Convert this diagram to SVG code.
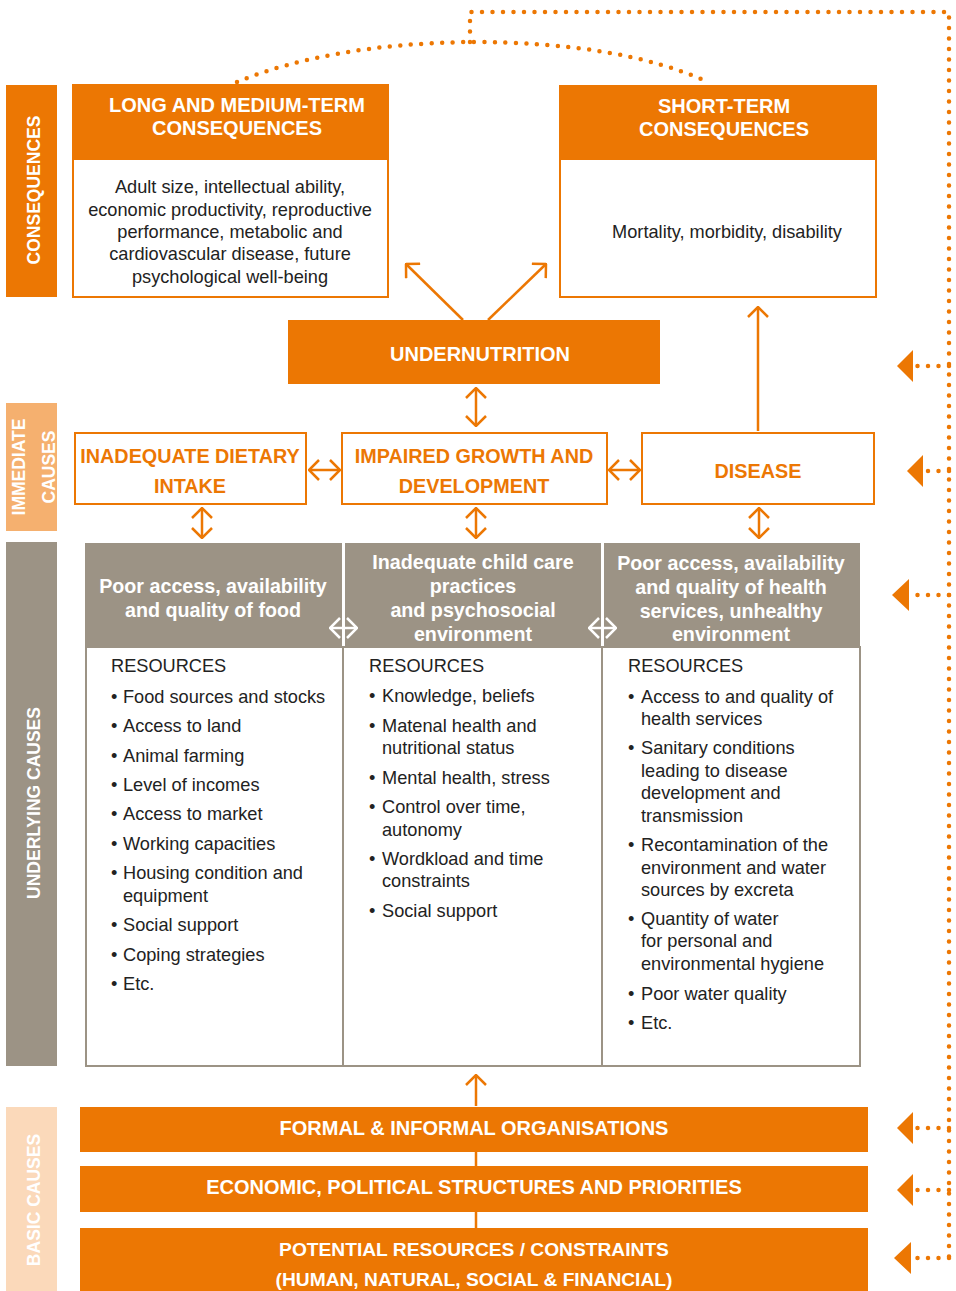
<svg xmlns="http://www.w3.org/2000/svg" width="956" height="1291" viewBox="0 0 956 1291">
<defs>
<style>
.or{fill:#EC7703}
.side{font-family:"Liberation Sans",Arial,sans-serif;font-weight:bold;font-size:17.5px;fill:#fff;text-anchor:middle}
.hd{font-family:"Liberation Sans",Arial,sans-serif;font-weight:bold;font-size:20px;fill:#fff;text-anchor:middle}
.gh{font-size:19.7px}
.pt{font-size:19.2px}
.ob{font-family:"Liberation Sans",Arial,sans-serif;font-weight:bold;font-size:19.8px;fill:#EC7703;text-anchor:middle}
.body{font-family:"Liberation Sans",Arial,sans-serif;font-size:18.2px;fill:#222;}
.mid{text-anchor:middle}
.box{fill:#fff;stroke:#EC7703;stroke-width:2}
.gray{fill:#9C9385}
.dot{fill:none;stroke:#EC7703;stroke-width:4.5;stroke-linecap:round;stroke-dasharray:0 10.5}
.ln{fill:none;stroke:#EC7703;stroke-width:2.5}
.wln{fill:none;stroke:#fff;stroke-width:2.5}
</style>
<marker id="ch" viewBox="0 0 12 22" refX="11" refY="11" markerWidth="12" markerHeight="22" markerUnits="userSpaceOnUse" orient="auto-start-reverse">
<path d="M1,1 L11,11 L1,21" fill="none" stroke="#EC7703" stroke-width="2.5"/>
</marker>
<marker id="chw" viewBox="0 0 12 22" refX="11" refY="11" markerWidth="12" markerHeight="22" markerUnits="userSpaceOnUse" orient="auto-start-reverse">
<path d="M1,1 L11,11 L1,21" fill="none" stroke="#fff" stroke-width="2.5"/>
</marker>
</defs>
<rect width="956" height="1291" fill="#fff"/>

<g id="side-labels">
<rect x="6" y="85" width="51" height="212" class="or"/>
<text class="side" transform="translate(40,190) rotate(-90)">CONSEQUENCES</text>
<rect x="6" y="403" width="51" height="128" fill="#F5B06F"/>
<text class="side" transform="translate(25,467) rotate(-90)">IMMEDIATE</text>
<text class="side" transform="translate(55,467) rotate(-90)">CAUSES</text>
<rect x="6" y="542" width="51" height="524" class="gray"/>
<text class="side" transform="translate(40,803) rotate(-90)">UNDERLYING CAUSES</text>
<rect x="6" y="1107" width="51" height="184" fill="#FBD9BA"/>
<text class="side" transform="translate(40,1200) rotate(-90)">BASIC CAUSES</text>
</g>

<g id="connectors">
<path class="dot" d="M237,82 Q330,44 470,42 Q620,42 708,82"/>
<path class="dot" d="M470,42 L470,12 L949,12 L949,1258"/>
<path class="dot" d="M949,366 L917,366 M949,471 L927,471 M949,595 L913,595 M949,1128 L917,1128 M949,1190 L917,1190 M949,1258 L915,1258"/>
<path class="or" d="M897,366 L913,350 L913,382 Z M907,471 L923,455 L923,487 Z M892,595 L909,579 L909,611 Z M897,1128 L913,1112 L913,1144 Z M897,1190 L913,1174 L913,1206 Z M894,1258 L911,1242 L911,1274 Z"/>
<path class="ln" d="M463,320 L406,264" marker-end="url(#ch)"/>
<path class="ln" d="M488,320 L546,264" marker-end="url(#ch)"/>
<path class="ln" d="M758,431 L758,307" marker-end="url(#ch)"/>
<path class="ln" d="M476,388 L476,426" marker-start="url(#ch)" marker-end="url(#ch)"/>
<path class="ln" d="M202,508 L202,538" marker-start="url(#ch)" marker-end="url(#ch)"/>
<path class="ln" d="M476,508 L476,538" marker-start="url(#ch)" marker-end="url(#ch)"/>
<path class="ln" d="M759,508 L759,538" marker-start="url(#ch)" marker-end="url(#ch)"/>
<path class="ln" d="M309,470 L340,470" marker-start="url(#ch)" marker-end="url(#ch)"/>
<path class="ln" d="M609,470 L640,470" marker-start="url(#ch)" marker-end="url(#ch)"/>
<path class="ln" d="M476,1106 L476,1075" marker-end="url(#ch)"/>
<path class="ln" d="M476,1152 L476,1166 M476,1212 L476,1228"/>
</g>

<g id="long-term">
<rect x="73" y="85" width="315" height="212" class="box"/>
<rect x="72" y="84" width="317" height="76" class="or"/>
<text class="hd" x="237" y="112">LONG AND MEDIUM-TERM</text>
<text class="hd" x="237" y="135">CONSEQUENCES</text>
<text class="body mid" x="230" y="193">Adult size, intellectual ability,</text>
<text class="body mid" x="230" y="216">economic productivity, reproductive</text>
<text class="body mid" x="230" y="238">performance, metabolic and</text>
<text class="body mid" x="230" y="260">cardiovascular disease, future</text>
<text class="body mid" x="230" y="283">psychological well-being</text>
</g>

<g id="short-term">
<rect x="560" y="86" width="316" height="211" class="box"/>
<rect x="559" y="85" width="318" height="75" class="or"/>
<text class="hd" x="724" y="113">SHORT-TERM</text>
<text class="hd" x="724" y="136">CONSEQUENCES</text>
<text class="body mid" x="727" y="238">Mortality, morbidity, disability</text>
</g>

<g id="undernutrition">
<rect x="288" y="320" width="372" height="64" class="or"/>
<text class="hd" x="480" y="361">UNDERNUTRITION</text>
</g>

<g id="dietary">
<rect x="75" y="433" width="231" height="71" class="box"/>
<text class="ob" x="190" y="463">INADEQUATE DIETARY</text>
<text class="ob" x="190" y="493">INTAKE</text>
</g>
<g id="growth">
<rect x="342" y="433" width="265" height="71" class="box"/>
<text class="ob" x="474" y="463">IMPAIRED GROWTH AND</text>
<text class="ob" x="474" y="493">DEVELOPMENT</text>
</g>
<g id="disease">
<rect x="642" y="433" width="232" height="71" class="box"/>
<text class="ob" x="758" y="478">DISEASE</text>
</g>

<g id="resources-panel">
<rect x="86" y="647" width="774" height="419" fill="#fff" stroke="#9C9385" stroke-width="2"/>
<path d="M343,647 L343,1066 M602,647 L602,1066" stroke="#9C9385" stroke-width="2"/>
</g>

<g id="food">
<rect x="85" y="543" width="257" height="104" class="gray"/>
<text class="hd gh" x="213" y="593">Poor access, availability</text>
<text class="hd gh" x="213" y="617">and quality of food</text>
<text class="body" x="111" y="672">RESOURCES</text>
<g class="body">
<text x="111" y="703">•</text><text x="123" y="703">Food sources and stocks</text>
<text x="111" y="732">•</text><text x="123" y="732">Access to land</text>
<text x="111" y="762">•</text><text x="123" y="762">Animal farming</text>
<text x="111" y="791">•</text><text x="123" y="791">Level of incomes</text>
<text x="111" y="820">•</text><text x="123" y="820">Access to market</text>
<text x="111" y="850">•</text><text x="123" y="850">Working capacities</text>
<text x="111" y="879">•</text><text x="123" y="879">Housing condition and</text>
<text x="123" y="902">equipment</text>
<text x="111" y="931">•</text><text x="123" y="931">Social support</text>
<text x="111" y="961">•</text><text x="123" y="961">Coping strategies</text>
<text x="111" y="990">•</text><text x="123" y="990">Etc.</text>
</g>
</g>

<g id="care">
<rect x="345" y="543" width="256" height="104" class="gray"/>
<text class="hd gh" x="473" y="569">Inadequate child care</text>
<text class="hd gh" x="473" y="593">practices</text>
<text class="hd gh" x="473" y="617">and psychosocial</text>
<text class="hd gh" x="473" y="641">environment</text>
<text class="body" x="369" y="672">RESOURCES</text>
<g class="body">
<text x="369" y="702">•</text><text x="382" y="702">Knowledge, beliefs</text>
<text x="369" y="732">•</text><text x="382" y="732">Matenal health and</text>
<text x="382" y="754">nutritional status</text>
<text x="369" y="784">•</text><text x="382" y="784">Mental health, stress</text>
<text x="369" y="813">•</text><text x="382" y="813">Control over time,</text>
<text x="382" y="836">autonomy</text>
<text x="369" y="865">•</text><text x="382" y="865">Wordkload and time</text>
<text x="382" y="887">constraints</text>
<text x="369" y="917">•</text><text x="382" y="917">Social support</text>
</g>
</g>

<g id="health">
<rect x="604" y="543" width="256" height="104" class="gray"/>
<text class="hd gh" x="731" y="570">Poor access, availability</text>
<text class="hd gh" x="731" y="594">and quality of health</text>
<text class="hd gh" x="731" y="618">services, unhealthy</text>
<text class="hd gh" x="731" y="641">environment</text>
<text class="body" x="628" y="672">RESOURCES</text>
<g class="body">
<text x="628" y="703">•</text><text x="641" y="703">Access to and quality of</text>
<text x="641" y="725">health services</text>
<text x="628" y="754">•</text><text x="641" y="754">Sanitary conditions</text>
<text x="641" y="777">leading to disease</text>
<text x="641" y="799">development and</text>
<text x="641" y="822">transmission</text>
<text x="628" y="851">•</text><text x="641" y="851">Recontamination of the</text>
<text x="641" y="874">environment and water</text>
<text x="641" y="896">sources by excreta</text>
<text x="628" y="925">•</text><text x="641" y="925">Quantity of water</text>
<text x="641" y="947">for personal and</text>
<text x="641" y="970">environmental hygiene</text>
<text x="628" y="1000">•</text><text x="641" y="1000">Poor water quality</text>
<text x="628" y="1029">•</text><text x="641" y="1029">Etc.</text>
</g>
</g>

<g id="white-arrows">
<path class="wln" d="M330,628 L357,628" marker-start="url(#chw)" marker-end="url(#chw)"/>
<path class="wln" d="M589,628 L616,628" marker-start="url(#chw)" marker-end="url(#chw)"/>
</g>

<g id="formal">
<rect x="80" y="1107" width="788" height="45" class="or"/>
<text class="hd" x="474" y="1135">FORMAL &amp; INFORMAL ORGANISATIONS</text>
</g>
<g id="economic">
<rect x="80" y="1166" width="788" height="46" class="or"/>
<text class="hd" x="474" y="1194">ECONOMIC, POLITICAL STRUCTURES AND PRIORITIES</text>
</g>
<g id="potential">
<rect x="80" y="1228" width="788" height="63" class="or"/>
<text class="hd pt" x="474" y="1256">POTENTIAL RESOURCES / CONSTRAINTS</text>
<text class="hd pt" x="474" y="1286">(HUMAN, NATURAL, SOCIAL &amp; FINANCIAL)</text>
</g>
</svg>
